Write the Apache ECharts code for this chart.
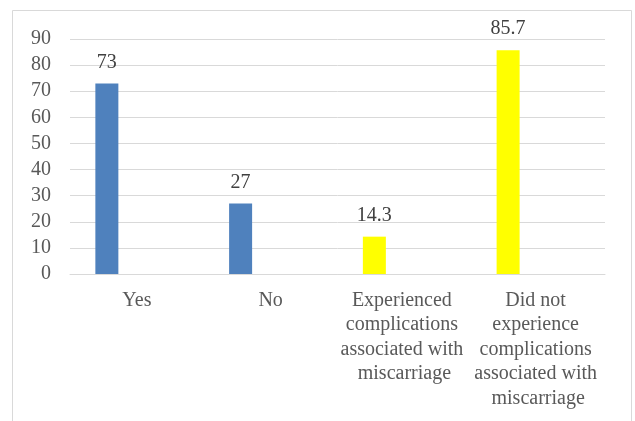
<!DOCTYPE html>
<html>
<head>
<meta charset="utf-8">
<script src="https://cdn.jsdelivr.net/npm/echarts@6/dist/echarts.min.js"></script>
<style>
  html, body { margin: 0; padding: 0; background: #ffffff; }
  #chart { width: 635px; height: 421px; }
</style>
</head>
<body>
<div id="chart"></div>
<script>
// Categories along the x axis
const categories = [
  'Yes',
  'No',
  'Experienced complications associated with miscarriage',
  'Did not experience complications associated with miscarriage'
];
// Percentages: first pair in blue, second pair in yellow
const blueValues = [73, 27, null, null];
const yellowValues = [null, null, 14.3, 85.7];
// Y axis range
const yMin = 0;
const yMax = 90;
const yStep = 10;

const FONT = '"Liberation Serif", "Times New Roman", serif';

const chart = echarts.init(document.getElementById('chart'), null, { renderer: 'canvas' });

const labelStyle = {
  show: true,
  position: 'top',
  distance: 11,
  fontFamily: FONT,
  fontSize: 20,
  color: '#404040'
};

chart.setOption({
  animation: false,
  backgroundColor: '#ffffff',
  graphic: [{
    type: 'rect',
    shape: { x: 12.5, y: 10.5, width: 619, height: 430 },
    style: { fill: 'none', stroke: '#d9d9d9', lineWidth: 1 },
    silent: true
  }],
  grid: { left: 70, right: 30, top: 39, bottom: 147, containLabel: false },
  xAxis: {
    type: 'category',
    data: categories,
    axisLine: { show: true, lineStyle: { color: '#d9d9d9', width: 1 } },
    axisTick: { show: false },
    axisLabel: {
      interval: 0,
      margin: 14,
      width: 134,
      overflow: 'break',
      fontFamily: FONT,
      fontSize: 20,
      lineHeight: 24.5,
      color: '#595959'
    }
  },
  yAxis: {
    type: 'value',
    min: yMin,
    max: yMax,
    interval: yStep,
    axisLine: { show: false },
    axisTick: { show: false },
    splitLine: { lineStyle: { color: '#d9d9d9', width: 1 } },
    axisLabel: {
      margin: 19,
      fontFamily: FONT,
      fontSize: 20,
      color: '#595959'
    }
  },
  series: [
    {
      name: 'blue',
      type: 'bar',
      stack: 'main',
      data: blueValues,
      barWidth: 23,
      itemStyle: { color: '#4f81bd' },
      label: labelStyle
    },
    {
      name: 'yellow',
      type: 'bar',
      stack: 'main',
      data: yellowValues,
      barWidth: 23,
      itemStyle: { color: '#ffff00' },
      label: labelStyle
    },
    {
      name: 'spacer',
      type: 'bar',
      data: [null, null, null, null],
      barWidth: 23,
      barGap: '161%'
    }
  ]
});
</script>
</body>
</html>
